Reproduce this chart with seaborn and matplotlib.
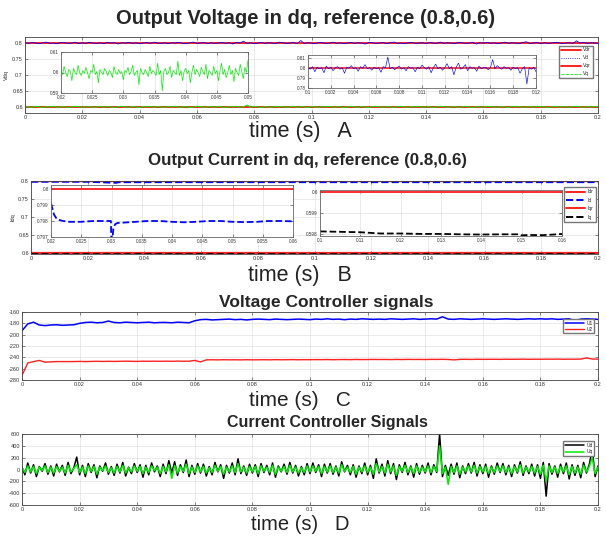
import numpy as np
import matplotlib
matplotlib.use("Agg")
import matplotlib.pyplot as plt
import seaborn as sns
from matplotlib.ticker import FuncFormatter
from matplotlib.lines import Line2D

sns.set_theme(style="whitegrid")
plt.rcParams['font.family'] = ['Liberation Sans', 'DejaVu Sans']

# ---------------- Panel A: output voltage dq ----------------
vdr_ref = [0.8, 0.8]
vqr_ref = [0.6, 0.6]
ref_t = [0.0, 0.2]
vd_main = [0.801,0.799,0.802,0.800,0.798,0.801,0.803,0.799,0.800,0.798,0.802,0.801,0.799,0.800,0.803,0.798,0.801,0.799,0.802,0.800,
           0.799,0.801,0.798,0.802,0.800,0.801,0.797,0.801,0.800,0.802,0.799,0.801,0.798,0.800,0.802,0.799,0.803,0.800,0.799,0.801,
           0.798,0.801,0.800,0.802,0.799,0.798,0.801,0.803,0.799,0.800,0.802,0.798,0.801,0.799,0.800,0.802,0.799,0.801,0.797,0.802,
           0.800,0.806,0.799,0.801,0.798,0.800,0.802,0.799,0.801,0.800,0.798,0.803,0.801,0.799,0.800,0.802,0.798,0.808,0.799,0.801,
           0.800,0.798,0.802,0.801,0.799,0.800,0.803,0.799,0.801,0.798,0.800,0.802,0.799,0.801,0.800,0.797,0.802,0.801,0.799,0.800,
           0.802,0.798,0.801,0.803,0.799,0.800,0.798,0.801,0.802,0.799,0.800,0.801,0.798,0.802,0.800,0.799,0.803,0.799,0.801,0.800,
           0.798,0.802,0.801,0.799,0.800,0.802,0.797,0.801,0.800,0.802,0.799,0.801,0.798,0.800,0.803,0.799,0.801,0.800,0.798,0.802,
           0.804,0.799,0.800,0.802,0.798,0.801,0.799,0.800,0.802,0.801,0.798,0.800,0.801,0.799,0.807,0.800,0.802,0.799,0.801,0.800,
           0.799]
vq_main = [0.601,0.600,0.599,0.602,0.600,0.598,0.601,0.600,0.602,0.599,0.600,0.601,0.598,0.600,0.602,0.601,0.599,0.600,0.601,0.599,
           0.600,0.602,0.599,0.601,0.600,0.598,0.601,0.602,0.600,0.599,0.601,0.600,0.598,0.601,0.600,0.602,0.599,0.601,0.600,0.599,
           0.601,0.600,0.602,0.599,0.600,0.601,0.598,0.600,0.602,0.601,0.599,0.600,0.601,0.599,0.602,0.600,0.598,0.601,0.600,0.602,
           0.599,0.600,0.606,0.599,0.602,0.600,0.598,0.601,0.600,0.599,0.602,0.600,0.601,0.599,0.600,0.602,0.599,0.601,0.600,0.598,
           0.601,0.600,0.599,0.601,0.600,0.602,0.599,0.600,0.601,0.598,0.600,0.602,0.600,0.599,0.601,0.600,0.598,0.601,0.602,0.600,
           0.599,0.601,0.600,0.598,0.601,0.602,0.600,0.599,0.601,0.600,0.602,0.599,0.600,0.601,0.598,0.600,0.602,0.601,0.599,0.600,
           0.601,0.599,0.600,0.602,0.600,0.598,0.601,0.600,0.599,0.602,0.601,0.600,0.599,0.601,0.600,0.598,0.602,0.600,0.601,0.599,
           0.600,0.601,0.599,0.602,0.600,0.601,0.598,0.600,0.602,0.599,0.601,0.600,0.599,0.601,0.602,0.600,0.599,0.601,0.600,0.601,
           0.600]
# inset A1: Vq between 0.02 and 0.05
vq_zoom = [0.6010,0.5990,0.6030,0.6000,0.5980,0.6015,0.6005,0.5960,0.6020,0.6000,0.5990,0.6035,0.6000,0.5985,0.6010,0.5995,0.6025,0.6000,0.5970,0.6010,
           0.6000,0.6040,0.5990,0.6005,0.5950,0.6015,0.6000,0.5990,0.6020,0.6005,0.5985,0.6010,0.6000,0.5975,0.6030,0.6000,0.5990,0.6015,0.5995,0.6005,
           0.5965,0.6010,0.6000,0.6025,0.5990,0.6005,0.6035,0.5985,0.6000,0.6010,0.5940,0.6020,0.6000,0.5990,0.6015,0.6000,0.5980,0.6030,0.5995,0.6010,
           0.6000,0.5985,0.6045,0.5990,0.6010,0.5910,0.6005,0.6020,0.5990,0.6000,0.6030,0.5975,0.6010,0.6000,0.5990,0.6055,0.5985,0.6010,0.5960,0.6005,
           0.6020,0.5995,0.6010,0.5950,0.6000,0.6035,0.5990,0.6015,0.6000,0.5980,0.6025,0.6005,0.5990,0.6040,0.5970,0.6010,0.6000,0.5985,0.6030,0.5995,
           0.6010,0.5960,0.6005,0.6045,0.5990,0.6015,0.5975,0.6000,0.6035,0.5990,0.6010,0.5955,0.6020,0.6000,0.5985,0.6040,0.6005,0.5970,0.6025,0.6000,
           0.6060]
# inset A2: Vd between 0.1 and 0.12
vd_zoom = [0.8000,0.7985,0.8010,0.7960,0.8005,0.7990,0.8000,0.7950,0.8015,0.7990,0.8005,0.7970,0.8000,0.8010,0.7985,0.8000,0.7945,0.8005,0.7995,0.8020,
           0.7990,0.8000,0.7965,0.8010,0.7995,0.8030,0.7990,0.8000,0.7975,0.8005,0.7990,0.8000,0.7955,0.8010,0.8000,0.8105,0.7990,0.8005,0.7980,0.8000,
           0.8015,0.7985,0.8000,0.7970,0.8010,0.7995,0.8000,0.7960,0.8005,0.7990,0.8025,0.8000,0.7985,0.8010,0.7950,0.8000,0.8035,0.7990,0.8005,0.7975,
           0.8000,0.8040,0.7990,0.8010,0.7930,0.8005,0.8045,0.7985,0.8000,0.8030,0.7970,0.8010,0.7995,0.8000,0.7965,0.8015,0.7990,0.8000,0.8005,0.7980,
           0.8000,0.8080,0.7990,0.8020,0.8000,0.7985,0.8010,0.7995,0.8000,0.7975,0.8005,0.7990,0.8000,0.7945,0.7990,0.8010,0.7840,0.8000,0.7985,0.8005,
           0.7960]

# ---------------- Panel B: output current dq ----------------
ib_t = [0.0, 0.02, 0.03, 0.031, 0.06, 0.1, 0.15, 0.2]
id_main = [0.7991, 0.7991, 0.7962, 0.7979, 0.7980, 0.7980, 0.7980, 0.7980]
iq_main = [0.5981, 0.5981, 0.5981, 0.5981, 0.5981, 0.5981, 0.5979, 0.5980]
b1_t = [0.020,0.0205,0.021,0.022,0.023,0.025,0.027,0.029,0.0299,0.0300,0.0303,0.0306,0.031,0.032,
        0.034,0.036,0.038,0.040,0.042,0.044,0.046,0.048,0.050,0.052,0.054,0.056,0.058,0.060]
id_zoom = [0.7991,0.7984,0.7981,0.7980,0.79795,0.79795,0.7980,0.7980,0.7980,0.7962,0.7975,0.7978,0.79788,0.7979,
           0.79795,0.7980,0.7980,0.79795,0.79792,0.79795,0.7980,0.7980,0.79795,0.79793,0.79795,0.7980,0.7980,0.79798]
b2_t = [0.100,0.105,0.110,0.115,0.120,0.125,0.130,0.135,0.140,0.145,0.149,0.150,0.152,0.155,0.158,0.160]
iq_zoom = [0.59812,0.59810,0.59808,0.59802,0.59802,0.59800,0.59800,0.59798,0.59797,0.59798,0.59798,0.59793,0.59795,0.59794,0.59797,0.59800]

# ---------------- Panel C: voltage controller signals ----------------
u1 = [-193,-181,-178,-183,-184,-183,-182.5,-183.5,-183,-182.5,
      -180,-178.5,-178,-179,-178.5,-176,-178.5,-179,-178,-178.5,-179,-178.5,-178,-179,-178.5,-178.5,-179,-178,-178.5,-179,
      -175.5,
      -173.5,-173,-174,-173.5,-173,-172.5,-173.5,-173,-174,-173,
      -172.5,-173,-173.5,-172.5,-173,-173.5,-173,-172.5,-173,-173.5,
      -172.5,-173,-172,-173,-172.5,-173.5,-172.5,-173,-172,-172.5,
      -173,-172.5,-173,-172,-172.5,-173,-172.5,-172,-173,-172.5,
      -172,-172.5,-168.5,-172.5,-173,-172,-172.5,-173,-172.5,-172,
      -172.5,-173,-172.5,-172,-172.5,-173,-172.5,-172,-172.5,-172,
      -172.5,-172,-173,-172.5,-172,-175.5,-172.5,-172,-172.5,-173]
u2 = [-272,-250,-247.5,-245.5,-248.5,-248,-247.5,
      -247.5,-247.5,-247.5,-247.2,-247.5,-247.2,-247,-247.3,-247,-247.2,-247,-246.8,-247,-247.2,-246.8,-247,-246.8,-247,-246.8,-247,-246.7,-246.9,-246.8,
      -245.5,-248,
      -244.5,-244.3,-244.5,-244.2,-244.4,-244.3,-244.5,-244.2,-244.4,-244.3,
      -244.2,-244.4,-244.1,-244.3,-244.2,-244,-244.3,-244.1,-244.2,-244,
      -244.1,-243.9,-244.2,-244,-243.9,-244.1,-243.8,-244,-243.9,-243.7,
      -243.9,-243.8,-244,-243.7,-243.9,-243.6,-243.8,-243.7,-243.9,-243.6,
      -243.7,-243.5,-243.8,-244.5,-243.6,-243.5,-243.7,-243.4,-243.6,-243.5,
      -243.4,-243.6,-243.3,-243.5,-243.4,-243.2,-243.5,-243.3,-243.4,-243.2,
      -243.3,-243.1,-243.4,-243.2,-243.3,-243.1,-241,-243,-243.2]

# ---------------- Panel D: current controller signals ----------------
ud = [40,-90,110,-60,80,-120,50,-30,100,-80,60,-110,90,-40,70,-100,120,-70,30,210,
      -90,70,-120,100,-50,80,-140,60,-30,110,-80,50,-100,90,-60,120,-110,40,-70,100,
      -50,80,-130,70,-90,110,-40,60,-120,90,-70,150,-60,130,-100,80,-50,160,-120,70,
      -80,100,-60,90,-110,50,-90,120,-40,80,-150,70,-60,110,-90,180,-70,60,-100,90,
      -60,80,-120,100,-50,70,-90,110,-130,60,-40,90,-80,120,-60,70,-110,50,-90,100,
      -70,110,-50,80,-120,90,-60,100,-80,60,-110,130,-40,70,-90,80,-130,60,-70,110,
      -90,70,-150,180,-60,90,-110,150,-70,100,-170,80,-50,120,-90,60,-130,100,-80,70,
      -60,110,-90,80,-50,600,-120,70,-100,90,-80,110,-140,60,-70,100,-60,120,-110,80,
      -70,90,-130,60,-80,110,-50,100,-90,70,-120,80,-60,130,-100,60,-70,90,-110,80,
      -150,120,-450,100,-80,60,-130,90,-70,110,-160,80,-100,70,-140,120,-60,90,350,-120,
      60]
uq = [30,-50,60,-40,50,-70,40,-20,60,-50,40,-60,50,-30,40,-60,70,-40,20,80,
      -50,40,-70,60,-30,50,-80,40,-20,60,-50,30,-60,50,-40,70,-60,30,-40,60,
      -30,50,-70,40,-50,60,-20,40,-70,50,-40,80,-150,70,-60,50,-30,90,-70,40,
      -50,60,-40,50,-60,30,-50,70,-30,50,-80,40,-40,60,-50,100,-40,40,-60,50,
      -40,50,-70,60,-30,40,-50,70,-80,40,-30,50,-50,70,-40,40,-60,30,-50,60,
      -40,60,-30,50,-70,50,-40,60,-50,40,-60,80,-30,40,-50,50,-80,40,-40,60,
      -50,40,-80,100,-40,50,-60,90,-40,60,-100,50,-30,70,-50,40,-70,60,-50,40,
      -40,60,-50,50,-30,400,-70,40,-250,50,-50,60,-80,40,-40,60,-40,70,-60,50,
      -40,50,-70,40,-50,60,-30,60,-50,40,-70,50,-40,80,-60,40,-40,50,-60,50,
      -80,70,-200,60,-50,40,-70,50,-40,60,-90,50,-60,40,-80,70,-40,50,200,-70,
      40]

main_xticks = [0, 0.02, 0.04, 0.06, 0.08, 0.1, 0.12, 0.14, 0.16, 0.18, 0.2]
a_yticks = [0.6, 0.65, 0.7, 0.75, 0.8]
c_yticks = [-280, -260, -240, -220, -200, -180, -160]
d_yticks = [-600, -400, -200, 0, 200, 400, 600]

RED = '#ff2020'
BLUE = '#0000ff'
GREEN = '#00ee00'

fmt = FuncFormatter(lambda v, p: f"{v:g}")


def style(ax, xticks, yticks, xlim, ylim, fs=4.0, inset=False):
    ax.set_xlim(*xlim)
    ax.set_ylim(*ylim)
    ax.set_xticks(xticks)
    ax.set_yticks(yticks)
    ax.xaxis.set_major_formatter(fmt)
    ax.yaxis.set_major_formatter(fmt)
    ax.tick_params(direction='in', length=2, width=0.4, labelsize=fs, pad=1.5,
                   colors='#333333', top=True, right=True, bottom=True, left=True)
    ax.grid(True, color='#e2e2e2', lw=0.5)
    ax.set_facecolor('white')
    for s in ax.spines.values():
        s.set_color('#666666' if inset else '#444444')
        s.set_linewidth(0.6)
    ax.set_xlabel('')
    ax.set_ylabel('')


def line(ax, x, y, color, lw, ls='-', label=None, z=2):
    sns.lineplot(x=np.asarray(x, dtype=float), y=np.asarray(y, dtype=float), ax=ax,
                 color=color, linewidth=lw, linestyle=ls, label=label,
                 legend=False, estimator=None, sort=False, zorder=z)


W, H = 606, 536
fig = plt.figure(figsize=(W / 100, H / 100), dpi=100)
RIGHT = 598


def rect(l, t, r, b):
    return [l / W, 1 - b / H, (r - l) / W, (b - t) / H]


# ---- Panel A ----
axA = fig.add_axes(rect(25, 37, RIGHT, 113))
tA = np.linspace(0, 0.2, len(vd_main))
line(axA, ref_t, vdr_ref, RED, 1.4)
line(axA, tA, vd_main, BLUE, 0.55)
line(axA, ref_t, vqr_ref, RED, 1.4)
line(axA, tA, vq_main, GREEN, 0.7)
style(axA, main_xticks, a_yticks, (0, 0.2), (0.581, 0.819))
axA.set_ylabel('Vdq', fontsize=4, labelpad=2)
hA = [Line2D([], [], color=RED, lw=1.4), Line2D([], [], color=BLUE, lw=0.6, ls=':'),
      Line2D([], [], color=RED, lw=1.4), Line2D([], [], color=GREEN, lw=0.6, ls='--')]
axA.legend(hA, ['Vdr', 'Vd', 'Vqr', 'Vq'], loc='upper right', bbox_to_anchor=(0.995, 0.92),
           fontsize=3.5, handlelength=4, frameon=True, fancybox=False, edgecolor='#777777',
           framealpha=1, borderpad=0.4, labelspacing=0.6, handletextpad=0.5)

axA1 = fig.add_axes(rect(61, 52, 248, 93))
tA1 = np.linspace(0.02, 0.05, len(vq_zoom))
line(axA1, tA1, vq_zoom, GREEN, 0.5)
style(axA1, [0.02, 0.025, 0.03, 0.035, 0.04, 0.045, 0.05], [0.59, 0.6, 0.61],
      (0.02, 0.05), (0.59, 0.61), fs=3.3, inset=True)

axA2 = fig.add_axes(rect(308, 55, 536, 88))
tA2 = np.linspace(0.1, 0.12, len(vd_zoom))
line(axA2, [0.1, 0.12], vdr_ref, RED, 1.2)
line(axA2, tA2, vd_zoom, BLUE, 0.45)
style(axA2, [0.1, 0.102, 0.104, 0.106, 0.108, 0.11, 0.112, 0.114, 0.116, 0.118, 0.12],
      [0.78, 0.79, 0.8, 0.81], (0.1, 0.12), (0.78, 0.8125), fs=3.3, inset=True)

# ---- Panel B ----
axB = fig.add_axes(rect(31, 181, RIGHT, 254))
line(axB, ref_t, vdr_ref, RED, 1.6)
line(axB, ib_t, id_main, BLUE, 1.4, '--')
line(axB, ref_t, vqr_ref, RED, 1.6)
line(axB, ib_t, iq_main, 'black', 1.4, '--')
style(axB, main_xticks, a_yticks, (0, 0.2), (0.5985, 0.8012))
axB.set_ylabel('Idq', fontsize=4, labelpad=2)
hB = [Line2D([], [], color=RED, lw=1.4), Line2D([], [], color=BLUE, lw=1.4, ls='--'),
      Line2D([], [], color=RED, lw=1.4), Line2D([], [], color='black', lw=1.4, ls='--')]
axB.legend(hB, ['Idr', 'Id', 'Iqr', 'Iq'], loc='upper right', bbox_to_anchor=(1.0, 0.945),
           fontsize=3.5, handlelength=4, frameon=True, fancybox=False, edgecolor='#777777',
           framealpha=1, borderpad=0.4, labelspacing=0.7, handletextpad=0.5)

axB1 = fig.add_axes(rect(51, 185, 293, 237))
line(axB1, [0.02, 0.06], vdr_ref, RED, 1.3)
line(axB1, b1_t, id_zoom, BLUE, 1.3, '--')
style(axB1, [0.02, 0.025, 0.03, 0.035, 0.04, 0.045, 0.05, 0.055, 0.06],
      [0.797, 0.798, 0.799, 0.8], (0.02, 0.06), (0.797, 0.80025), fs=3.3, inset=True)

axB2 = fig.add_axes(rect(320, 190, 562, 236))
line(axB2, [0.1, 0.16], vqr_ref, RED, 1.3)
line(axB2, b2_t, iq_zoom, 'black', 1.3, '--')
style(axB2, [0.1, 0.11, 0.12, 0.13, 0.14, 0.15, 0.16], [0.598, 0.599, 0.6],
      (0.1, 0.16), (0.5979, 0.6001), fs=3.3, inset=True)

# ---- Panel C ----
axC = fig.add_axes(rect(22, 312, RIGHT, 380))
tC = np.linspace(0, 0.2, len(u1))
line(axC, tC, u1, BLUE, 1.1, label='U1')
line(axC, tC, u2, RED, 1.0, label='U2')
style(axC, main_xticks, c_yticks, (0, 0.2), (-280, -160))
axC.legend(loc='upper right', bbox_to_anchor=(0.998, 0.93), fontsize=3.5, handlelength=4,
           frameon=True, fancybox=False, edgecolor='#777777', framealpha=1,
           borderpad=0.3, labelspacing=0.2, handletextpad=0.5)

# ---- Panel D ----
axD = fig.add_axes(rect(22, 434, RIGHT, 505))
tD = np.linspace(0, 0.2, len(ud))
line(axD, tD, ud, 'black', 1.1, label='Ud')
line(axD, tD, uq, GREEN, 1.1, label='Uq')
style(axD, main_xticks, d_yticks, (0, 0.2), (-600, 600))
axD.legend(loc='upper right', bbox_to_anchor=(0.998, 0.93), fontsize=3.5, handlelength=4,
           frameon=True, fancybox=False, edgecolor='#777777', framealpha=1,
           borderpad=0.3, labelspacing=0.3, handletextpad=0.5)

# ---- titles and x labels ----
fig.text(306 / W, 1 - 19 / H, 'Output Voltage in dq, reference (0.8,0.6)', ha='center', va='center',
         fontsize=14.5, fontweight='bold')
fig.text(308 / W, 1 - 161 / H, 'Output Current in dq, reference (0.8,0.6)', ha='center', va='center',
         fontsize=12.2, fontweight='bold')
fig.text(326 / W, 1 - 302 / H, 'Voltage Controller signals', ha='center', va='center',
         fontsize=12.5, fontweight='bold')
fig.text(327 / W, 1 - 422 / H, 'Current Controller Signals', ha='center', va='center',
         fontsize=11.5, fontweight='bold')
for ylab, txt, fs in [(132, 'time (s)   A', 15.5), (276, 'time (s)   B', 15.5),
                      (400, 'time (s)   C', 15), (524, 'time (s)   D', 14.5)]:
    fig.text(300 / W, 1 - ylab / H, txt, ha='center', va='center', fontsize=fs, color='#222222')

fig.savefig('out.png', dpi=100, facecolor='white')
